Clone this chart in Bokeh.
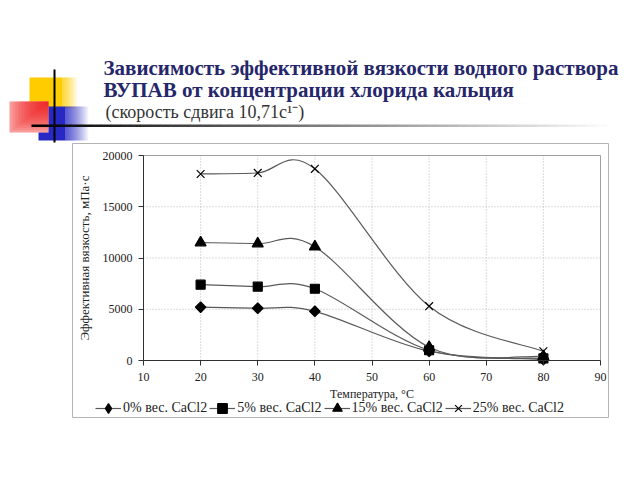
import math
from bokeh.plotting import figure
from bokeh.models import (Label, Legend, LegendItem, FixedTicker, LinearAxis,
                          ColumnDataSource, Range1d)
from bokeh.embed import file_html
from bokeh.resources import INLINE

# ---------------- data ----------------
temperature = [20, 30, 40, 60, 80]
visc_0 = [5200, 5100, 4800, 900, 100]
visc_5 = [7400, 7200, 7000, 1000, 200]
visc_15 = [11500, 11400, 11100, 1300, 400]
visc_25 = [18200, 18300, 18700, 5300, 900]
series_names = ["0% вес. CaCl2", "5% вес. CaCl2", "15% вес. CaCl2", "25% вес. CaCl2"]
x_ticks = [10, 20, 30, 40, 50, 60, 70, 80, 90]
y_ticks = [0, 5000, 10000, 15000, 20000]

title1 = "Зависимость эффективной вязкости водного раствора"
title2 = "ВУПАВ от концентрации хлорида кальция"
title3 = "(скорость сдвига 10,71с¹⁻)"
x_label = "Температура, °C"
y_label = "Эффективная вязкость, мПа·с"

SERIF = "Liberation Serif"
W, H = 640, 480

# plot-area placement on the slide (pixels)
PL, PR, PT, PB = 143, 600, 155, 360
XMIN, XMAX = x_ticks[0], x_ticks[-1]
YMIN, YMAX = y_ticks[0], y_ticks[-1]
kx = (PR - PL) / (XMAX - XMIN)
ky = (PB - PT) / (YMAX - YMIN)
temp_range = Range1d(XMIN - PL / kx, XMIN + (W - PL) / kx)
visc_range = Range1d(YMIN - (H - PB) / ky, YMIN + PB / ky)

p = figure(width=W, height=H, output_backend="svg", toolbar_location=None,
           x_range=Range1d(0, W), y_range=Range1d(H, 0),
           x_axis_type=None, y_axis_type=None, min_border=0)
p.extra_x_ranges = {"temp": temp_range}
p.extra_y_ranges = {"visc": visc_range}
p.xgrid.visible = False
p.ygrid.visible = False
p.background_fill_color = "white"
p.border_fill_color = "white"
p.outline_line_color = None

CH = dict(x_range_name="temp", y_range_name="visc")

# ---------------- slide decorations (pixel coordinates) ----------------
# chart outer border
p.quad(left=72, right=608, top=143, bottom=417, fill_alpha=0,
       line_color="#b4b4b4", line_width=1)

# yellow square fading to the right
p.quad(left=29, right=62, top=77, bottom=108, fill_color="#FFCC00", line_alpha=0)
p.quad(left=[62 + i for i in range(15)], right=[63 + i for i in range(15)],
       top=77, bottom=108, fill_color="#FFCC00",
       fill_alpha=[1 - i / 15 for i in range(15)], line_alpha=0)
# blue square fading to right
p.quad(left=38, right=65, top=106, bottom=140, fill_color="#2828C4", line_alpha=0)
p.quad(left=[65 + i for i in range(23)], right=[66 + i for i in range(23)],
       top=106, bottom=140, fill_color="#2828C4",
       fill_alpha=[1 - i / 23 for i in range(23)], line_alpha=0)
# red square: strong red at top-right, paler toward bottom-left
p.quad(left=9, right=48, top=101, bottom=132, fill_color="white", line_alpha=0)
p.quad(left=9, right=48, top=101, bottom=132, fill_color="#F01010",
       fill_alpha=0.42, line_alpha=0)
p.quad(left=[9 + 3 * k for k in range(1, 13)], right=48, top=101,
       bottom=[132 - 2.4 * k for k in range(1, 13)], fill_color="#F01010",
       fill_alpha=0.12, line_alpha=0)
# vertical black line
p.quad(left=53, right=55, top=69, bottom=142, fill_color="black", line_alpha=0)
# horizontal gradient line
g0, g1, n = 31, 606, 58
p.quad(left=[g0 + (g1 - g0) * i / n for i in range(n)],
       right=[g0 + (g1 - g0) * (i + 1) / n + 0.5 for i in range(n)],
       top=124, bottom=126.5,
       fill_color=["#%02x%02x%02x" % ((int(255 * i / n),) * 3) for i in range(n)],
       line_alpha=0)

# titles
TITLE_COLOR = "#26266a"
for txt, y in ((title1, 67), (title2, 89)):
    p.add_layout(Label(x=103, y=y, text=txt, text_font=SERIF, text_font_size="21px",
                       text_font_style="bold", text_color=TITLE_COLOR,
                       text_baseline="alphabetic"))
p.add_layout(Label(x=105, y=111, text=title3, text_font=SERIF,
                   text_font_size="18px", text_color="#333333",
                   text_baseline="alphabetic"))

# ---------------- chart ----------------
# grid (dotted) at tick positions
p.segment(x0=x_ticks[1:-1], y0=YMIN, x1=x_ticks[1:-1], y1=YMAX,
          line_color="#b8b8b8", line_dash="1 2", line_width=1, **CH)
p.segment(x0=XMIN, y0=y_ticks[1:-1], x1=XMAX, y1=y_ticks[1:-1],
          line_color="#b8b8b8", line_dash="1 2", line_width=1, **CH)
# plot-area outline
p.quad(left=XMIN, right=XMAX, bottom=YMIN, top=YMAX, fill_alpha=0,
       line_color="#a0a0a0", line_width=1, **CH)

xaxis = LinearAxis(x_range_name="temp", y_range_name="visc", fixed_location=YMIN,
                   bounds=(XMIN, XMAX), ticker=FixedTicker(ticks=x_ticks),
                   axis_label=x_label)
yaxis = LinearAxis(x_range_name="temp", y_range_name="visc", fixed_location=XMIN,
                   bounds=(YMIN, YMAX), ticker=FixedTicker(ticks=y_ticks),
                   axis_label=y_label)
for ax in (xaxis, yaxis):
    ax.axis_line_color = "#303030"
    ax.major_tick_line_color = "#303030"
    ax.minor_tick_line_color = None
    ax.major_tick_out = 5
    ax.major_tick_in = 0
    ax.major_label_text_font = SERIF
    ax.major_label_text_font_size = "12px"
    ax.major_label_text_color = "#222222"
    ax.axis_label_text_font = SERIF
    ax.axis_label_text_font_style = "normal"
    ax.axis_label_text_color = "#222222"
xaxis.axis_label_text_font_size = "12px"
yaxis.axis_label_text_font_size = "13px"
xaxis.axis_label_standoff = 3
yaxis.axis_label_standoff = 8
xaxis.major_label_standoff = 7
yaxis.major_label_standoff = 6
p.add_layout(xaxis, "below")
p.add_layout(yaxis, "left")

# smoothed lines (Excel-like bezier through the data points)
def bezier_source(xs, ys):
    pts = list(zip(xs, ys))
    m = len(pts)
    d = dict(x0=[], y0=[], x1=[], y1=[], cx0=[], cy0=[], cx1=[], cy1=[])
    for i in range(m - 1):
        p0 = pts[i - 1] if i > 0 else pts[i]
        p1 = pts[i]
        p2 = pts[i + 1]
        p3 = pts[i + 2] if i + 2 < m else pts[i + 1]
        d["x0"].append(p1[0]); d["y0"].append(p1[1])
        d["x1"].append(p2[0]); d["y1"].append(p2[1])
        d["cx0"].append(p1[0] + (p2[0] - p0[0]) / 6)
        d["cy0"].append(p1[1] + (p2[1] - p0[1]) / 6)
        d["cx1"].append(p2[0] - (p3[0] - p1[0]) / 6)
        d["cy1"].append(p2[1] - (p3[1] - p1[1]) / 6)
    return ColumnDataSource(d)

LINE = "#5a5a5a"
all_series = [visc_0, visc_5, visc_15, visc_25]
markers = ["square", "square", "triangle", "x"]
legend_markers = ["diamond", "square", "triangle", "x"]
angles = [math.pi / 4, 0, 0, 0]
sizes = [7.5, 9, 11, 11]
items = []
for name, ys, mk, lmk, ang, sz in zip(series_names, all_series, markers,
                                       legend_markers, angles, sizes):
    p.bezier(x0="x0", y0="y0", x1="x1", y1="y1", cx0="cx0", cy0="cy0",
             cx1="cx1", cy1="cy1", source=bezier_source(temperature, ys),
             line_color=LINE, line_width=1.2, **CH)
    p.scatter(temperature, ys, marker=mk, angle=ang, size=sz,
              fill_color="black", line_color="black", line_width=1.2, **CH)
    leg_line = p.line(temperature, ys, line_color=LINE, line_width=1.2,
                      visible=False, **CH)
    leg_mark = p.scatter(temperature, ys, marker=lmk, size=sz,
                         fill_color="black", line_color="black", line_width=1.2,
                         visible=False, **CH)
    items.append(LegendItem(label=name, renderers=[leg_line, leg_mark]))

legend = Legend(items=items, orientation="horizontal", location=(95, H - 420),
                padding=0, margin=0, spacing=2, glyph_width=26, glyph_height=24,
                label_height=24, label_standoff=2, background_fill_alpha=0,
                border_line_alpha=0, label_text_font=SERIF,
                label_text_font_size="14px", label_text_color="#222222")
p.add_layout(legend, "center")

open("out.html", "w").write(file_html(p, INLINE))
